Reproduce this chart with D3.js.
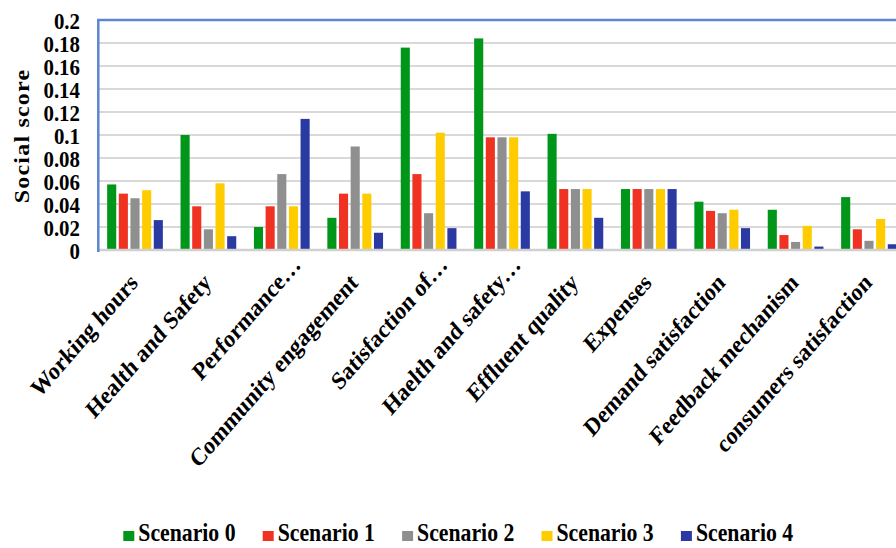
<!doctype html>
<html lang="en">
  <head>
    <meta charset="utf-8">
    <style>
    body { margin: 0; background: #fff; }
    text { font-family: "Liberation Serif", "Times New Roman", serif; font-weight: bold; fill: #000; }
    .grid line { stroke: #d9d9d9; stroke-width: 2px; }
    </style>
    <script src="https://d3js.org/d3.v7.min.js"></script>
    <title>Social score</title>
  </head>
  <body>
    <svg width="896" height="548"></svg>

<script type="text/javascript">
  // data
  const categories = ["Working hours", "Health and Safety", "Performance…", "Community engagement",
    "Satisfaction of…", "Haelth and safety…", "Effluent quality", "Expenses",
    "Demand satisfaction", "Feedback mechanism", "consumers satisfaction"];
  const seriesNames = ["Scenario 0", "Scenario 1", "Scenario 2", "Scenario 3", "Scenario 4"];
  const colors = ["#00961a", "#ef3222", "#8f8f8f", "#ffcc00", "#2a3aa2"];
  const scenario0 = [0.057, 0.100, 0.020, 0.028, 0.176, 0.184, 0.101, 0.053, 0.042, 0.035, 0.046];
  const scenario1 = [0.049, 0.038, 0.038, 0.049, 0.066, 0.098, 0.053, 0.053, 0.034, 0.013, 0.018];
  const scenario2 = [0.045, 0.018, 0.066, 0.090, 0.032, 0.098, 0.053, 0.053, 0.032, 0.007, 0.008];
  const scenario3 = [0.052, 0.058, 0.038, 0.049, 0.102, 0.098, 0.053, 0.053, 0.035, 0.021, 0.027];
  const scenario4 = [0.026, 0.012, 0.114, 0.015, 0.019, 0.051, 0.028, 0.053, 0.019, 0.003, 0.005];
  const yTicks = [0, 0.02, 0.04, 0.06, 0.08, 0.1, 0.12, 0.14, 0.16, 0.18, 0.2];

  const series = [scenario0, scenario1, scenario2, scenario3, scenario4];

  const svg = d3.select('svg');
  const plotLeft = 98.3, plotRight = 905.7, plotTop = 20, plotBottom = 250;
  const squeeze = 0.87;   // the text in the picture is narrowed

  const y = d3.scaleLinear().domain([0, 0.2]).range([plotBottom, plotTop]);
  const x0 = d3.scaleBand().domain(categories).range([plotLeft, plotRight])
      .paddingInner(0.241).paddingOuter(0.1205);
  const x1 = d3.scaleBand().domain(d3.range(series.length)).range([0, x0.bandwidth()])
      .paddingInner(0.22);

  // gridlines
  svg.append('g').attr('class', 'grid')
    .selectAll('line')
    .data(yTicks.filter(d => d > 0 && d < 0.2))
    .enter().append('line')
    .attr('x1', plotLeft).attr('x2', plotRight)
    .attr('y1', d => y(d)).attr('y2', d => y(d));

  // bars
  svg.append('g')
    .selectAll('g')
    .data(categories)
    .enter().append('g')
    .attr('transform', d => `translate(${x0(d)},0)`)
    .selectAll('rect')
    .data((d, i) => series.map((s, k) => ({ k: k, v: s[i] })))
    .enter().append('rect')
    .attr('x', d => x1(d.k))
    .attr('width', x1.bandwidth())
    .attr('y', d => y(d.v))
    .attr('height', d => y(0) - y(d.v))
    .attr('fill', d => colors[d.k]);

  // axis line at zero
  svg.append('line')
    .attr('x1', plotLeft).attr('x2', plotRight)
    .attr('y1', y(0)).attr('y2', y(0))
    .attr('stroke', '#d0d0d0').attr('stroke-width', 2.5);

  // blue frame (left and top)
  svg.append('path')
    .attr('d', `M${plotLeft},${y(0) + 2}V${plotTop}H${plotRight}`)
    .attr('fill', 'none')
    .attr('stroke', '#5b86d0')
    .attr('stroke-width', 2.5);

  // y axis labels
  const yAxis = d3.axisLeft(y).tickValues(yTicks).tickFormat(d => String(+d.toFixed(2))).tickSize(0).tickPadding(0);
  svg.append('g')
    .attr('transform', 'translate(80,0)')
    .call(yAxis)
    .call(g => g.select('.domain').remove())
    .selectAll('text')
    .attr('x', 0)
    .attr('dy', '0.34em')
    .attr('transform', `scale(${squeeze},1)`)
    .style('font-family', '"Liberation Serif", serif')
    .style('font-weight', 'bold')
    .style('font-size', '24px')
    .attr('fill', '#000');

  svg.append('text')
    .attr('transform', `translate(29,136) scale(${squeeze},1) rotate(-90)`)
    .attr('text-anchor', 'middle')
    .style('font-size', '24px')
    .style('letter-spacing', '1.2px')
    .text('Social score');

  // x labels, rotated
  svg.append('g')
    .selectAll('text')
    .data(categories)
    .enter().append('text')
    .attr('transform', d => {
      let cx = x0(d) + x0.bandwidth() / 2 + 4;
      let cy = 284;
      if (d.endsWith('…')) { cx += 16; cy -= 18; }
      return `translate(${cx},${cy}) scale(${squeeze},1) rotate(-45)`;
    })
    .attr('text-anchor', 'end')
    .style('font-size', '25px')
    .text(d => d);

  // legend
  const legend = svg.append('g')
    .selectAll('g')
    .data(seriesNames)
    .enter().append('g')
    .attr('transform', (d, i) => `translate(${123.3 + i * 139.4},0)`);
  legend.append('rect')
    .attr('x', 0).attr('y', 531)
    .attr('width', 11).attr('height', 10)
    .attr('fill', (d, i) => colors[i]);
  legend.append('text')
    .attr('transform', `translate(15,541) scale(${squeeze},1)`)
    .style('font-size', '25px')
    .text(d => d);
</script>
  </body>
</html>
